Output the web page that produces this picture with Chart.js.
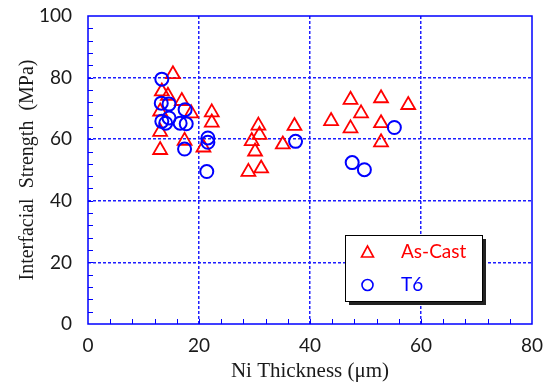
<!DOCTYPE html>
<html>
<head>
<meta charset="utf-8">
<script src="https://cdn.jsdelivr.net/npm/chart.js@4"></script>
<style>
body { margin: 0; background: #fff; }
#wrap { width: 547px; height: 385px; position: relative; }
</style>
</head>
<body>
<div id="wrap"><canvas id="chart"></canvas></div>
<script>
// values
const as_cast_x = [15.3, 13.3, 14.4, 16.9, 13.0, 18.6, 22.3, 22.3, 13.0, 17.4, 13.0, 20.8,
    30.7, 30.9, 29.5, 30.1, 28.9, 31.2, 35.1, 37.2, 43.8, 47.3, 49.2, 47.3, 52.8, 52.8, 52.8, 57.7];
const as_cast_y = [81.1, 75.5, 74.1, 72.4, 69.0, 68.4, 68.7, 65.4, 62.4, 59.5, 56.5, 57.3,
    64.4, 61.4, 59.4, 56.0, 49.4, 50.5, 58.3, 64.3, 65.9, 72.8, 68.4, 63.5, 73.3, 65.2, 59.0, 71.1];
const t6_x = [13.3, 13.2, 14.6, 17.5, 13.3, 14.0, 14.6, 16.6, 17.7, 17.4, 21.6, 21.6, 21.4, 37.4, 47.6, 49.8, 55.2];
const t6_y = [79.5, 71.7, 71.4, 69.6, 65.8, 65.2, 66.9, 65.2, 65.0, 56.8, 60.4, 59.0, 49.5, 59.3, 52.4, 50.1, 63.8];

const x_ticks = [0, 20, 40, 60, 80];
const y_ticks = [0, 20, 40, 60, 80, 100];
const series_names = ["As-Cast", "T6"];

const RED = "#ff0000";
const BLUE = "#0000ff";
const GRID_BLUE = "#1e1eff";

function to_points(xs, ys) {
    return xs.map((x, i) => ({x: x, y: ys[i]}));
}

function grid_color(c) {
    const v = c.tick ? c.tick.value : null;
    return (v > 0 && v < 80 + (c.scale.axis == "y" ? 20 : 0)) ? GRID_BLUE : "rgba(0,0,0,0)";
}

// frame + inward minor ticks
const frame_plugin = {
    id: "frame",
    beforeDatasetsDraw(chart) {
        const {ctx, chartArea: a, scales} = chart;
        ctx.save();
        ctx.strokeStyle = BLUE;
        ctx.lineWidth = 1.5;
        ctx.strokeRect(a.left, a.top, a.right - a.left, a.bottom - a.top);
        ctx.lineWidth = 1;
        ctx.beginPath();
        for (let v = 4; v < 80; v += 4) {
            const px = Math.round(scales.x.getPixelForValue(v)) + 0.5;
            ctx.moveTo(px, a.bottom);
            ctx.lineTo(px, a.bottom - 5);
        }
        for (let v = 4; v < 100; v += 4) {
            const py = Math.round(scales.y.getPixelForValue(v)) + 0.5;
            ctx.moveTo(a.left, py);
            ctx.lineTo(a.left + 5, py);
        }
        ctx.stroke();
        ctx.restore();
    },
};

// boxed legend inside the plot
const legend_plugin = {
    id: "boxlegend",
    afterDraw(chart) {
        const ctx = chart.ctx;
        const bx = 345, by = 235, bw = 137, bh = 66;
        ctx.save();
        ctx.fillStyle = "#222";
        ctx.fillRect(bx + 4, by + 4, bw, bh);
        ctx.fillStyle = "#fff";
        ctx.fillRect(bx, by, bw, bh);
        ctx.strokeStyle = "#000";
        ctx.lineWidth = 1;
        ctx.strokeRect(bx + 0.5, by + 0.5, bw, bh);

        ctx.font = "19px Lato";
        ctx.textBaseline = "middle";
        const rows = [[RED, 252, "triangle"], [BLUE, 285, "circle"]];
        rows.forEach(([col, cy, shape], i) => {
            const mx = 367.5;
            ctx.strokeStyle = col;
            ctx.lineWidth = 1.6;
            ctx.beginPath();
            if (shape == "triangle") {
                ctx.moveTo(mx, cy - 6);
                ctx.lineTo(mx + 6, cy + 5);
                ctx.lineTo(mx - 6, cy + 5);
                ctx.closePath();
            } else {
                ctx.arc(mx, cy, 5.5, 0, Math.PI * 2);
            }
            ctx.stroke();
            ctx.fillStyle = col;
            ctx.fillText(series_names[i], 401, cy);
        });
        ctx.restore();
    },
};

const chart = new Chart(document.getElementById("chart"), {
    type: "scatter",
    data: {
        datasets: [
            {
                label: series_names[0],
                data: to_points(as_cast_x, as_cast_y),
                pointStyle: "triangle",
                pointRadius: 8,
                borderColor: RED,
                backgroundColor: "rgba(0,0,0,0)",
                borderWidth: 1.8,
                order: 1,
            },
            {
                label: series_names[1],
                data: to_points(t6_x, t6_y),
                pointStyle: "circle",
                pointRadius: 6.5,
                borderColor: BLUE,
                backgroundColor: "rgba(0,0,0,0)",
                borderWidth: 2,
                order: 0,
            },
        ],
    },
    options: {
        responsive: true,
        maintainAspectRatio: false,
        animation: false,
        layout: {padding: {left: 0, right: 15, top: 16, bottom: 0}},
        plugins: {
            legend: {display: false},
            tooltip: {enabled: false},
        },
        scales: {
            x: {
                type: "linear",
                min: 0,
                max: 80,
                afterFit: s => {
                    s.height = 61;
                    s.paddingLeft = 0;
                    s.paddingRight = 0;
                },
                afterBuildTicks: s => { s.ticks = x_ticks.map(v => ({value: v})); },
                border: {display: false, dash: [3, 2]},
                grid: {color: grid_color, lineWidth: 1.5, drawTicks: false},
                ticks: {padding: 10, color: "#1a1a1a", font: {family: "Lato", size: 19}},
                title: {
                    display: true,
                    text: "Ni Thickness (μm)",
                    color: "#1a1a1a",
                    font: {family: "Liberation Serif", size: 21},
                    padding: {top: 0, bottom: 1},
                },
            },
            y: {
                type: "linear",
                min: 0,
                max: 100,
                afterFit: s => {
                    s.width = 88;
                    s.paddingTop = 0;
                    s.paddingBottom = 0;
                },
                afterBuildTicks: s => { s.ticks = y_ticks.map(v => ({value: v})); },
                border: {display: false, dash: [3, 2]},
                grid: {color: grid_color, lineWidth: 1.5, drawTicks: false},
                ticks: {padding: 16, color: "#1a1a1a", font: {family: "Lato", size: 19}},
                title: {
                    display: true,
                    text: "Interfacial  Strength  (MPa)",
                    color: "#1a1a1a",
                    font: {family: "Liberation Serif", size: 20},
                    padding: {top: 16, bottom: 0},
                },
            },
        },
    },
    plugins: [frame_plugin, legend_plugin],
});
</script>
</body>
</html>
